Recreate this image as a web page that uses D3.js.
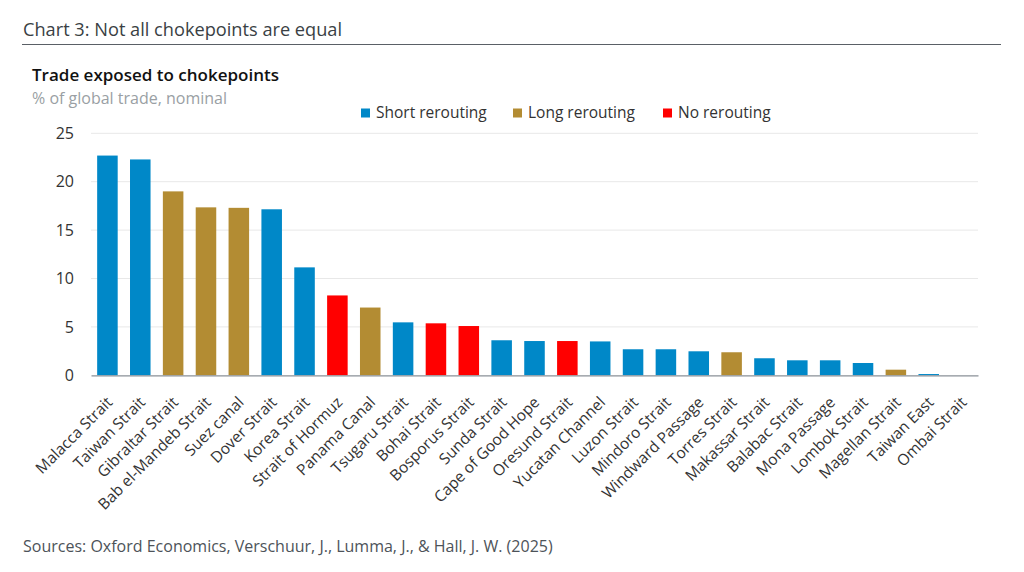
<!DOCTYPE html>
<html><head><meta charset="utf-8">
<script src="https://cdn.jsdelivr.net/npm/d3@7"></script>
<style>body{margin:0;background:#fff;} text{font-family:"Open Sans",sans-serif;}</style>
</head><body>
<svg id="c" width="1024" height="572"></svg>
<script>
const categories = ["Malacca Strait","Taiwan Strait","Gibraltar Strait","Bab el-Mandeb Strait","Suez canal","Dover Strait","Korea Strait","Strait of Hormuz","Panama Canal","Tsugaru Strait","Bohai Strait","Bosporus Strait","Sunda Strait","Cape of Good Hope","Oresund Strait","Yucatan Channel","Luzon Strait","Mindoro Strait","Windward Passage","Torres Strait","Makassar Strait","Balabac Strait","Mona Passage","Lombok Strait","Magellan Strait","Taiwan East","Ombai Strait"];
const values = [22.7,22.3,19.0,17.35,17.3,17.15,11.15,8.25,7.0,5.47,5.37,5.09,3.62,3.54,3.54,3.5,2.69,2.69,2.48,2.38,1.76,1.55,1.55,1.27,0.58,0.13,0];
const groups = ["Short","Short","Long","Long","Long","Short","Short","None","Long","Short","None","None","Short","Short","None","Short","Short","Short","Short","Long","Short","Short","Short","Short","Long","Short","Short"];
const legendKeys = ["Short","Long","None"];
const legendLabels = ["Short rerouting","Long rerouting","No rerouting"];
const yTicks = [0,5,10,15,20,25];

const colors = {Short:"#0088c8", Long:"#b38c33", None:"#ff0000"};
const svg = d3.select("#c");

svg.append("text").attr("x",23).attr("y",36).attr("font-size",18.2).attr("font-weight",500).attr("fill","#3a3f44").text("Chart 3: Not all chokepoints are equal");
svg.append("line").attr("x1",22).attr("x2",1001).attr("y1",44.5).attr("y2",44.5).attr("stroke","#5a6066").attr("stroke-width",1.2);
svg.append("text").attr("x",32).attr("y",81).attr("font-size",17).attr("font-weight",600).attr("fill","#111").text("Trade exposed to chokepoints");
svg.append("text").attr("x",32).attr("y",104).attr("font-size",16).attr("fill","#9a9fa4").text("% of global trade, nominal");
svg.append("text").attr("x",23).attr("y",552).attr("font-size",16).attr("fill","#4d5359").text("Sources: Oxford Economics, Verschuur, J., Lumma, J., & Hall, J. W. (2025)");

const x = d3.scaleBand().domain(categories).range([91,978]).paddingInner(0.375).paddingOuter(0.1875);
const y = d3.scaleLinear().domain([0,25]).range([375.3,133.3]);

const g = svg.append("g");
g.selectAll("line.grid").data(yTicks.filter(d=>d>0)).join("line").attr("class","grid")
  .attr("x1",91).attr("x2",978).attr("y1",d=>y(d)).attr("y2",d=>y(d)).attr("stroke","#e8e8e8").attr("stroke-width",1);

const yAxis = svg.append("g").attr("transform","translate(91,0)")
  .call(d3.axisLeft(y).tickValues(yTicks).tickSize(0).tickPadding(17));
yAxis.select(".domain").remove();
yAxis.selectAll("text").attr("font-size",16).attr("fill","#333").attr("font-family","Open Sans, sans-serif");

g.selectAll("rect.bar").data(categories).join("rect").attr("class","bar")
  .attr("x",d=>x(d)).attr("width",x.bandwidth())
  .attr("y",(d,i)=>y(values[i])).attr("height",(d,i)=>y(0)-y(values[i]))
  .attr("fill",(d,i)=>colors[groups[i]]);

const xAxis = svg.append("g").attr("transform",`translate(0,${y(0)})`)
  .call(d3.axisBottom(x).tickSize(0).tickPadding(0));
xAxis.select(".domain").attr("stroke","#8a9097").attr("stroke-width",1.3);
xAxis.selectAll("text").attr("font-size",15.5).attr("fill","#333").attr("font-family","Open Sans, sans-serif")
  .attr("text-anchor","end").attr("dy",0).attr("y",0)
  .attr("transform","translate(6,28) rotate(-45)");

const leg = svg.append("g");
const legX = [361,513,663];
legendKeys.forEach((k,i)=>{
  leg.append("rect").attr("x",legX[i]).attr("y",108.5).attr("width",9).attr("height",9).attr("fill",colors[k]);
  leg.append("text").attr("x",legX[i]+15).attr("y",118).attr("font-size",15.5).attr("fill","#333").text(legendLabels[i]);
});
</script>
</body></html>
